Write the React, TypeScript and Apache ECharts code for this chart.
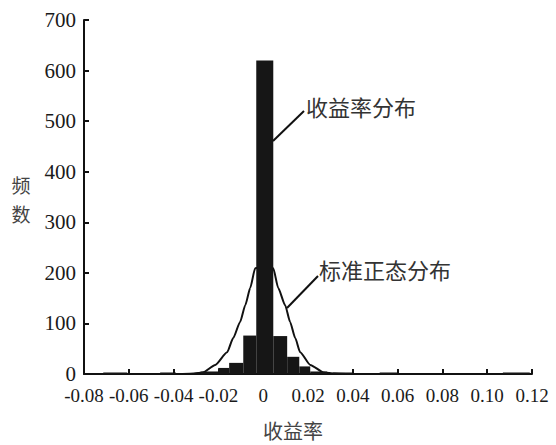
import React, { useEffect, useRef } from "react";
import * as echarts from "echarts";

// Histogram bins (return rate) and frequencies
const binStart = [-0.0714, -0.046, -0.028, -0.0201, -0.0152, -0.0089, -0.0031, 0.0045, 0.0107, 0.0161, 0.021, 0.031, 0.052, 0.107];
const binEnd = [-0.0607, -0.039, -0.0201, -0.0152, -0.0089, -0.0031, 0.0045, 0.0107, 0.0161, 0.021, 0.0286, 0.04, 0.06, 0.119];
const counts = [3, 3, 5, 12, 22, 76, 620, 75, 34, 15, 5, 3, 3, 3];

// Normal distribution curve
const curveX = [-0.036, -0.031, -0.027, -0.0214, -0.0161, -0.0134, -0.0103, -0.008, -0.0058, -0.0036, 0.0005, 0.0045, 0.0067, 0.0098, 0.012, 0.0143, 0.0165, 0.021, 0.027, 0.032, 0.037];
const curveY = [0, 1, 3, 18, 43, 71, 103, 136, 170, 209, 213, 209, 170, 136, 103, 71, 43, 18, 3, 1, 0];

const xMin = -0.08;
const xMax = 0.12;
const xStep = 0.02;
const yMin = 0;
const yMax = 700;
const yStep = 100;

const xAxisName = "收益率";
const yAxisNameChars = ["频", "数"];
const histLabel = "收益率分布";
const normalLabel = "标准正态分布";

const SERIF = "'Liberation Serif', 'Times New Roman', serif";
const CJK = "'Noto Sans CJK SC', sans-serif";

export default function App() {
  const ref = useRef<HTMLDivElement>(null);
  useEffect(() => {
    if (!ref.current) return;
    const chart = echarts.init(ref.current, undefined, { renderer: "svg" });
    const histData = counts.map((c, i) => [binStart[i], binEnd[i], c]);
    const curveData = curveX.map((x, i) => [x, curveY[i]]);
    chart.setOption({
      animation: false,
      backgroundColor: "#ffffff",
      grid: { left: 84, right: 24, top: 20, bottom: 71, containLabel: false },
      xAxis: {
        type: "value",
        min: xMin,
        max: xMax,
        interval: xStep,
        axisLine: { show: true, onZero: false, lineStyle: { color: "#111", width: 2 } },
        axisTick: { show: true, inside: true, length: 5, lineStyle: { color: "#111", width: 2 } },
        splitLine: { show: false },
        axisLabel: {
          margin: 12,
          fontFamily: SERIF,
          fontSize: 19,
          color: "#1a1a1a",
          showMaxLabel: true,
          showMinLabel: true,
          formatter: (v: number) => (Math.abs(v) < 1e-9 ? "0" : v.toFixed(2)),
        },
      },
      yAxis: {
        type: "value",
        min: yMin,
        max: yMax,
        interval: yStep,
        axisLine: { show: true, onZero: false, lineStyle: { color: "#111", width: 2 } },
        axisTick: { show: true, inside: true, length: 5, lineStyle: { color: "#111", width: 2 } },
        splitLine: { show: false },
        axisLabel: { margin: 8, fontFamily: SERIF, fontSize: 21, color: "#1a1a1a" },
      },
      series: [
        {
          type: "line",
          data: curveData,
          smooth: 0.2,
          smoothMonotone: "x",
          showSymbol: false,
          symbol: "none",
          lineStyle: { color: "#111", width: 2 },
          z: 2,
        },
        {
          type: "custom",
          data: histData,
          encode: { x: [0, 1], y: 2 },
          z: 3,
          renderItem: (params: any, api: any) => {
            const x0 = api.value(0);
            const x1 = api.value(1);
            const y = api.value(2);
            const p0 = api.coord([x0, y]);
            const p1 = api.coord([x1, 0]);
            return {
              type: "rect",
              shape: { x: p0[0], y: p0[1], width: p1[0] - p0[0], height: p1[1] - p0[1] },
              style: { fill: "#161616" },
            };
          },
        },
      ],
      graphic: [
        {
          type: "text",
          x: 21,
          y: 184,
          style: { text: yAxisNameChars[0], font: `19px ${CJK}`, fill: "#444", align: "center", verticalAlign: "middle" },
        },
        {
          type: "text",
          x: 21,
          y: 213,
          style: { text: yAxisNameChars[1], font: `19px ${CJK}`, fill: "#444", align: "center", verticalAlign: "middle" },
        },
        {
          type: "text",
          x: 293,
          y: 430,
          style: { text: xAxisName, font: `20px ${CJK}`, fill: "#444", align: "center", verticalAlign: "middle" },
        },
        {
          type: "text",
          x: 306,
          y: 106,
          style: { text: histLabel, font: `22px ${CJK}`, fill: "#333", align: "left", verticalAlign: "middle" },
        },
        {
          type: "line",
          shape: { x1: 304, y1: 111, x2: 273, y2: 141 },
          style: { stroke: "#111", lineWidth: 2 },
        },
        {
          type: "text",
          x: 319,
          y: 269,
          style: { text: normalLabel, font: `22px ${CJK}`, fill: "#333", align: "left", verticalAlign: "middle" },
        },
        {
          type: "line",
          shape: { x1: 318, y1: 276, x2: 287, y2: 308 },
          style: { stroke: "#111", lineWidth: 2 },
        },
      ],
    });
    return () => chart.dispose();
  }, []);
  return (
    <div
      ref={ref}
      style={{ position: "fixed", left: 0, top: 0, width: 556, height: 445 }}
    />
  );
}
